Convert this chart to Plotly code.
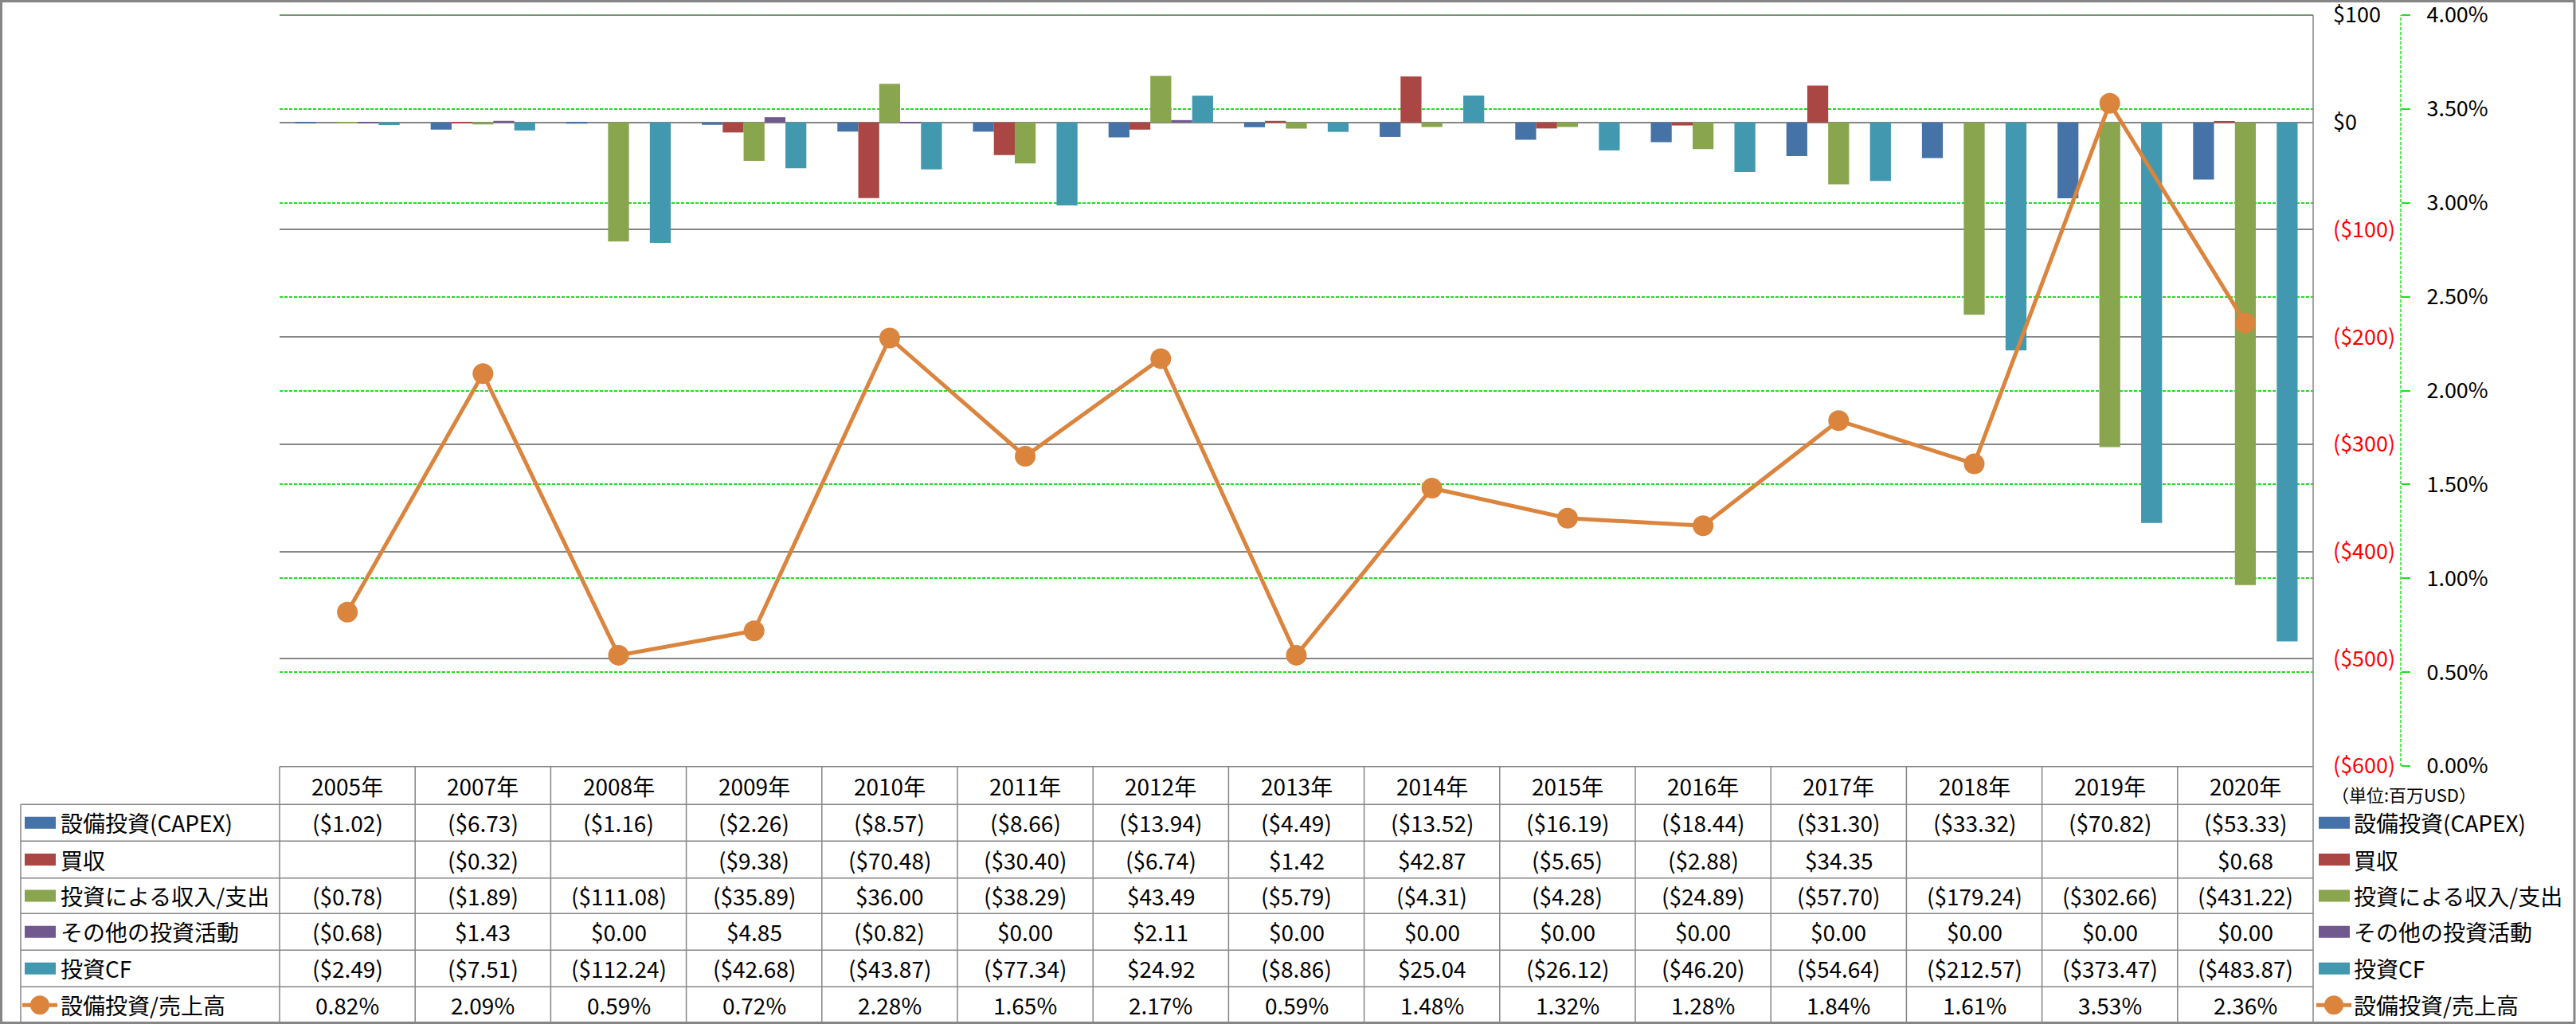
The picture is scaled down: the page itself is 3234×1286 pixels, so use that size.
import plotly.graph_objects as go

# ---------------- data ----------------
years = ["2005年", "2007年", "2008年", "2009年", "2010年", "2011年", "2012年", "2013年",
         "2014年", "2015年", "2016年", "2017年", "2018年", "2019年", "2020年"]
capex = [-1.02, -6.73, -1.16, -2.26, -8.57, -8.66, -13.94, -4.49, -13.52, -16.19, -18.44, -31.30, -33.32, -70.82, -53.33]
acquisition = [None, -0.32, None, -9.38, -70.48, -30.40, -6.74, 1.42, 42.87, -5.65, -2.88, 34.35, None, None, 0.68]
investment = [-0.78, -1.89, -111.08, -35.89, 36.00, -38.29, 43.49, -5.79, -4.31, -4.28, -24.89, -57.70, -179.24, -302.66, -431.22]
other = [-0.68, 1.43, 0.00, 4.85, -0.82, 0.00, 2.11, 0.00, 0.00, 0.00, 0.00, 0.00, 0.00, 0.00, 0.00]
invest_cf = [-2.49, -7.51, -112.24, -42.68, -43.87, -77.34, 24.92, -8.86, 25.04, -26.12, -46.20, -54.64, -212.57, -373.47, -483.87]
capex_ratio = [0.82, 2.09, 0.59, 0.72, 2.28, 1.65, 2.17, 0.59, 1.48, 1.32, 1.28, 1.84, 1.61, 3.53, 2.36]  # %

series_names = ["設備投資(CAPEX)", "買収", "投資による収入/支出", "その他の投資活動", "投資CF"]
line_name = "設備投資/売上高"
usd_ticks = [100, 0, -100, -200, -300, -400, -500, -600]
pct_ticks = [0.0, 0.005, 0.01, 0.015, 0.02, 0.025, 0.03, 0.035, 0.04]
unit_label = "（単位:百万USD）"

# ---------------- style ----------------
colors = ["#4572A7", "#AA4643", "#89A54E", "#71588F", "#4198AF"]
line_color = "#DB843D"
grid_gray = "#868686"
green = "#22DD22"
FONT = "Noto Sans CJK JP"
FS = 28
AX_FS = 27

W, H = 3234, 1286
ML, MR, MT, MB = 351, 220, 17, 324
PW, PH = W - ML - MR, H - MT - MB
PLOT_RIGHT = 2904
PLOT_TOP = 19          # pixel row of the $100 / 4.00% line
PLOT_BOTTOM = H - MB   # pixel row of the ($600) / 0.00% line

# axis ranges: extend slightly above $100 so the top gridline is kept
usd_min, usd_max = -600, 100
px_per_usd = (PLOT_BOTTOM - PLOT_TOP) / (usd_max - usd_min)
usd_top = usd_max + (PLOT_TOP - MT) / px_per_usd
pct_top = 0.04 * (usd_top - usd_min) / (usd_max - usd_min)


def px_x(x):
    return (x - ML) / PW


def px_y(y):
    return (H - MB - y) / PH


def money(v):
    if v is None:
        return ""
    if v < 0:
        return "(${:,.2f})".format(abs(v))
    return "${:,.2f}".format(v)


def tick_money(v):
    if v < 0:
        return "<span style='color:#FF0000'>(${:,.0f})</span>".format(abs(v))
    return "${:,.0f}".format(v)


fig = go.Figure()
bar_series = [capex, acquisition, investment, other, invest_cf]
for name, vals, c in zip(series_names, bar_series, colors):
    fig.add_trace(go.Bar(x=years, y=vals, name=name, marker=dict(color=c, line=dict(width=0)),
                         yaxis="y"))

fig.add_trace(go.Scatter(x=years, y=[r / 100 for r in capex_ratio], name=line_name, yaxis="y2",
                         mode="lines+markers",
                         line=dict(color=line_color, width=5),
                         marker=dict(color=line_color, size=26, line=dict(width=0))))

shapes = []
annotations = []

# top border of the plot area (gray, over the 4.00% green gridline)
shapes.append(dict(type="line", xref="paper", yref="paper", x0=px_x(351), x1=px_x(PLOT_RIGHT),
                   y0=px_y(PLOT_TOP), y1=px_y(PLOT_TOP), line=dict(color=grid_gray, width=1.5)))

# ----- table geometry (pixel rows) -----
row_edges = [962.7, 1010.3, 1056.3, 1102.7, 1147.3, 1193.3, 1239.3, 1285.0]
line_style = dict(color=grid_gray, width=1.5)

# header top
shapes.append(dict(type="line", xref="paper", yref="paper", x0=px_x(351), x1=px_x(PLOT_RIGHT),
                   y0=px_y(row_edges[0]), y1=px_y(row_edges[0]), line=line_style))
for ry in row_edges[1:-1]:
    shapes.append(dict(type="line", xref="paper", yref="paper", x0=px_x(26), x1=px_x(PLOT_RIGHT),
                       y0=px_y(ry), y1=px_y(ry), line=line_style))
# verticals
shapes.append(dict(type="line", xref="paper", yref="paper", x0=px_x(26), x1=px_x(26),
                   y0=px_y(row_edges[1]), y1=px_y(row_edges[-1]), line=line_style))
shapes.append(dict(type="line", xref="paper", yref="paper", x0=px_x(351), x1=px_x(351),
                   y0=px_y(row_edges[0]), y1=px_y(row_edges[-1]), line=line_style))
shapes.append(dict(type="line", xref="paper", yref="paper", x0=px_x(PLOT_RIGHT), x1=px_x(PLOT_RIGHT),
                   y0=px_y(PLOT_TOP), y1=px_y(row_edges[-1]), line=line_style))
for i in range(1, len(years)):
    shapes.append(dict(type="line", xref="x", yref="paper", x0=i - 0.5, x1=i - 0.5,
                       y0=px_y(row_edges[0]), y1=px_y(row_edges[-1]), line=line_style))

# outer chart border
shapes.append(dict(type="rect", xref="paper", yref="paper", x0=px_x(1.5), x1=px_x(W - 2),
                   y0=px_y(1.5), y1=px_y(H - 1.5), line=dict(color=grid_gray, width=3)))

# secondary axis dashed line
shapes.append(dict(type="line", xref="paper", yref="paper", x0=1.0, x1=1.0,
                   y0=px_y(PLOT_BOTTOM), y1=px_y(PLOT_TOP),
                   line=dict(color=green, width=1.5, dash="4px,2px")))

# header text
hc = (row_edges[0] + row_edges[1]) / 2
for yr in years:
    annotations.append(dict(x=yr, xref="x", y=px_y(hc), yref="paper", text=yr, showarrow=False,
                            xanchor="center", yanchor="middle", font=dict(size=FS, family=FONT, color="black")))

row_texts = [[money(v) for v in s] for s in bar_series] + [["{:.2f}%".format(v) for v in capex_ratio]]
all_names = series_names + [line_name]
all_colors = colors + [line_color]

for r in range(6):
    cy = (row_edges[r + 1] + row_edges[r + 2]) / 2
    for i, yr in enumerate(years):
        annotations.append(dict(x=yr, xref="x", y=px_y(cy), yref="paper", text=row_texts[r][i],
                                showarrow=False, xanchor="center", yanchor="middle",
                                font=dict(size=FS, family=FONT, color="black")))
    # left key + label, right key + label
    for kx0, tx in [(31, 74), (2911, 2953)]:
        if r < 5:
            shapes.append(dict(type="rect", xref="paper", yref="paper", x0=px_x(kx0), x1=px_x(kx0 + 39),
                               y0=px_y(cy + 7.5), y1=px_y(cy - 7.5), fillcolor=all_colors[r],
                               line=dict(width=0)))
        else:
            shapes.append(dict(type="line", xref="paper", yref="paper", x0=px_x(kx0 - 3), x1=px_x(kx0 + 41),
                               y0=px_y(cy), y1=px_y(cy), line=dict(color=line_color, width=5)))
            shapes.append(dict(type="circle", xref="paper", yref="paper", x0=px_x(kx0 + 7), x1=px_x(kx0 + 31),
                               y0=px_y(cy + 12), y1=px_y(cy - 12), fillcolor=line_color,
                               line=dict(width=0)))
        annotations.append(dict(x=px_x(tx), xref="paper", y=px_y(cy), yref="paper", text=all_names[r],
                                showarrow=False, xanchor="left", yanchor="middle",
                                font=dict(size=FS, family=FONT, color="black")))

annotations.append(dict(x=px_x(2925), xref="paper", y=px_y(997), yref="paper", text=unit_label,
                        showarrow=False, xanchor="left", yanchor="middle",
                        font=dict(size=22, family=FONT, color="black")))

fig.update_layout(
    width=W, height=H,
    margin=dict(l=ML, r=MR, t=MT, b=MB, autoexpand=False),
    paper_bgcolor="white", plot_bgcolor="white",
    barmode="group", bargap=0.229, bargroupgap=0,
    showlegend=False,
    font=dict(family=FONT, size=FS, color="black"),
    xaxis=dict(domain=[0, px_x(PLOT_RIGHT)], type="category", range=[-0.5, len(years) - 0.5],
               showticklabels=False, showgrid=False, zeroline=False, showline=False, ticks=""),
    yaxis=dict(side="right", anchor="x", range=[usd_min, usd_top], tickvals=usd_ticks,
               ticktext=[tick_money(v) for v in usd_ticks],
               showgrid=True, gridcolor=grid_gray, gridwidth=1.5, zeroline=False,
               showline=False, ticks="", ticklabelstandoff=24, ticklabeloverflow="allow",
               tickfont=dict(size=AX_FS, family=FONT, color="black"), automargin=False),
    yaxis2=dict(overlaying="y", side="right", anchor="free", position=1.0, range=[0, pct_top],
                tickvals=pct_ticks, tickformat=".2%",
                showgrid=True, gridcolor=green, gridwidth=1.5, griddash="4px,2px",
                zeroline=False, showline=False, ticks="outside", ticklen=11, tickcolor=green,
                tickwidth=1.5, ticklabelstandoff=15, ticklabeloverflow="allow",
                tickfont=dict(size=AX_FS, family=FONT, color="black"), automargin=False),
    shapes=shapes,
    annotations=annotations,
)

fig.write_html("out.html")
